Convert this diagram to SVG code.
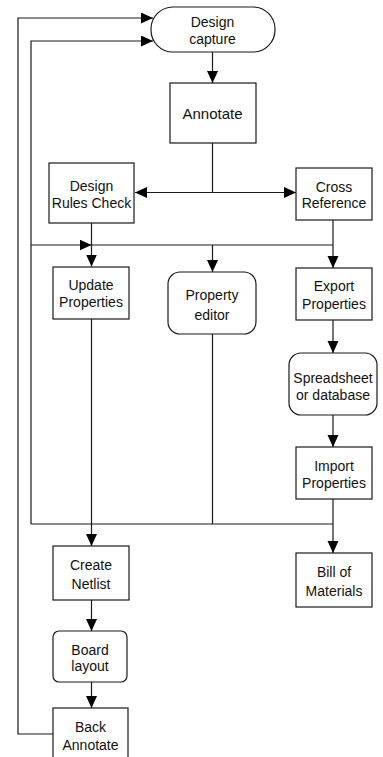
<svg xmlns="http://www.w3.org/2000/svg" width="383" height="757" viewBox="0 0 383 757">
<style>
.n{fill:#fff;stroke:#1a1a1a;stroke-width:1.2}
.c{fill:none;stroke:#1a1a1a;stroke-width:1.2}
text{font-family:"Liberation Sans",Arial,sans-serif;font-size:14px;fill:#111;text-anchor:middle}
</style>
<defs>
<marker id="a" markerUnits="userSpaceOnUse" markerWidth="13" markerHeight="12" refX="12" refY="5.5" orient="auto">
<path d="M0,0 L12,5.5 L0,11 z" fill="#000"/>
</marker>
</defs>
<rect width="383" height="757" fill="#fff"/>
<g id="connectors">
<path class="c" d="M212.5,52 V83" marker-end="url(#a)"/>
<path class="c" d="M212.5,143 V192.5"/>
<path class="c" d="M212.5,192.5 H135" marker-end="url(#a)"/>
<path class="c" d="M212.5,192.5 H296" marker-end="url(#a)"/>
<path class="c" d="M91.5,223 V266.5" marker-end="url(#a)"/>
<path class="c" d="M31,524 V41 H153" marker-end="url(#a)"/>
<path class="c" d="M31,245 H91.5" marker-end="url(#a)"/>
<path class="c" d="M91.5,245 H333"/>
<path class="c" d="M212.5,245 V272" marker-end="url(#a)"/>
<path class="c" d="M333,220 V268" marker-end="url(#a)"/>
<path class="c" d="M333,320 V353" marker-end="url(#a)"/>
<path class="c" d="M333,415 V447" marker-end="url(#a)"/>
<path class="c" d="M333,499 V553" marker-end="url(#a)"/>
<path class="c" d="M31,524 H333"/>
<path class="c" d="M212.5,334 V524"/>
<path class="c" d="M91.5,319 V546" marker-end="url(#a)"/>
<path class="c" d="M91.5,600 V631" marker-end="url(#a)"/>
<path class="c" d="M91.5,682 V708" marker-end="url(#a)"/>
<path class="c" d="M53,734 H18 V18 H153" marker-end="url(#a)"/>
</g>
<g id="design-capture">
<rect class="n" x="151" y="7" width="124" height="45" rx="22" ry="22"/>
<text x="212.5" y="27">Design</text>
<text x="212.5" y="44">capture</text>
</g>
<g id="annotate">
<rect class="n" x="170" y="83" width="86" height="60"/>
<text x="212.5" y="119" style="font-size:15px">Annotate</text>
</g>
<g id="drc">
<rect class="n" x="49" y="163" width="85" height="60"/>
<text x="91.5" y="191">Design</text>
<text x="91.5" y="208">Rules Check</text>
</g>
<g id="cross-reference">
<rect class="n" x="296" y="168" width="76" height="52"/>
<text x="334" y="192">Cross</text>
<text x="334" y="208">Reference</text>
</g>
<g id="update-properties">
<rect class="n" x="53" y="267" width="76" height="52"/>
<text x="91" y="290">Update</text>
<text x="91" y="307">Properties</text>
</g>
<g id="property-editor">
<rect class="n" x="168" y="272" width="88" height="62" rx="12" ry="12"/>
<text x="212" y="300">Property</text>
<text x="212" y="320">editor</text>
</g>
<g id="export-properties">
<rect class="n" x="296" y="268" width="76" height="52"/>
<text x="334" y="291">Export</text>
<text x="334" y="309">Properties</text>
</g>
<g id="spreadsheet">
<rect class="n" x="289" y="353" width="88" height="62" rx="12" ry="12"/>
<text x="333" y="383">Spreadsheet</text>
<text x="333" y="400">or database</text>
</g>
<g id="import-properties">
<rect class="n" x="296" y="447" width="76" height="52"/>
<text x="334" y="471">Import</text>
<text x="334" y="488">Properties</text>
</g>
<g id="bill-of-materials">
<rect class="n" x="296" y="553" width="76" height="54"/>
<text x="334" y="577">Bill of</text>
<text x="334" y="596">Materials</text>
</g>
<g id="create-netlist">
<rect class="n" x="53" y="546" width="76" height="54"/>
<text x="91" y="570">Create</text>
<text x="91" y="589">Netlist</text>
</g>
<g id="board-layout">
<rect class="n" x="53" y="631" width="74" height="51" rx="6" ry="6"/>
<text x="90" y="655">Board</text>
<text x="90" y="671">layout</text>
</g>
<g id="back-annotate">
<rect class="n" x="53" y="708" width="75" height="60"/>
<text x="90.5" y="732">Back</text>
<text x="90.5" y="750">Annotate</text>
</g>
</svg>
